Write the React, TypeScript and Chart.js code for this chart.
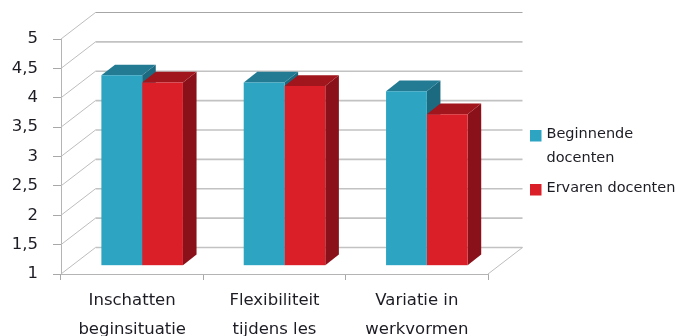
import React, { useEffect, useRef } from "react";
import { Chart, registerables } from "chart.js";

Chart.register(...registerables);

const categories = [
  ["Inschatten", "beginsituatie"],
  ["Flexibiliteit", "tijdens les"],
  ["Variatie in", "werkvormen"],
];
const beginnendeValues = [4.24, 4.12, 3.97];
const ervarenValues = [4.12, 4.06, 3.58];
const seriesNames = ["Beginnende docenten", "Ervaren docenten"];
const legendLines = [["Beginnende", "docenten"], ["Ervaren docenten"]];
const axisMinimum = 1;
const axisMaximum = 5;

const FONT = "'DejaVu Sans', sans-serif";
const TEXT = "#1c1c24";
const faces = [
  { front: "#2da4c2", top: "#237b93", side: "#1c6a80" },
  { front: "#db1f29", top: "#a1151c", side: "#8a1119" },
];

// Oblique projection of the 3D box: wall depth and the inset of the bars from the front plane.
const WALL = { dx: 34.5, dy: 26.5 };
const BAR_INSET = { dx: 10, dy: 8.3 };
const BAR_DEPTH = { dx: 13.6, dy: 10.6 };

const boxPlugin = {
  id: "box3d",
  beforeDatasetsDraw(chart: any) {
    const { ctx, chartArea, scales } = chart;
    const { left, right, bottom } = chartArea;

    // Back wall, side wall and floor.
    ctx.save();
    scales.y.ticks.forEach((tick: any, i: number) => {
      const y = scales.y.getPixelForValue(tick.value);
      ctx.strokeStyle = "#bdbdbd";
      ctx.lineWidth = 1;
      ctx.beginPath();
      ctx.moveTo(left, y);
      ctx.lineTo(left + WALL.dx, y - WALL.dy);
      ctx.stroke();
      ctx.strokeStyle = i === scales.y.ticks.length - 1 ? "#a6a6a6" : "#c2c2c2";
      ctx.lineWidth = i === scales.y.ticks.length - 1 ? 1 : 1.6;
      ctx.beginPath();
      ctx.moveTo(left + WALL.dx, y - WALL.dy);
      ctx.lineTo(right + WALL.dx, y - WALL.dy);
      ctx.stroke();
    });
    ctx.strokeStyle = "#bdbdbd";
    ctx.lineWidth = 1;
    ctx.beginPath();
    ctx.moveTo(right, bottom);
    ctx.lineTo(right + WALL.dx, bottom - WALL.dy);
    ctx.stroke();
    ctx.restore();

    // Everything the datasets paint sits on the plane set back from the axes.
    ctx.save();
    ctx.translate(BAR_INSET.dx, -BAR_INSET.dy);

    const count = chart.data.labels.length;
    for (let c = 0; c < count; c++) {
      chart.data.datasets.forEach((_: any, d: number) => {
        const bar = chart.getDatasetMeta(d).data[c];
        const { x, y, base, width } = bar.getProps(["x", "y", "base", "width"], true);
        const l = x - width / 2;
        const r = x + width / 2;
        ctx.fillStyle = faces[d].side;
        ctx.beginPath();
        ctx.moveTo(r, y);
        ctx.lineTo(r + BAR_DEPTH.dx, y - BAR_DEPTH.dy);
        ctx.lineTo(r + BAR_DEPTH.dx, base - BAR_DEPTH.dy);
        ctx.lineTo(r, base);
        ctx.closePath();
        ctx.fill();
        ctx.fillStyle = faces[d].top;
        ctx.beginPath();
        ctx.moveTo(l, y);
        ctx.lineTo(l + BAR_DEPTH.dx, y - BAR_DEPTH.dy);
        ctx.lineTo(r + BAR_DEPTH.dx, y - BAR_DEPTH.dy);
        ctx.lineTo(r, y);
        ctx.closePath();
        ctx.fill();
      });
    }
  },
  afterDatasetsDraw(chart: any) {
    const { ctx } = chart;
    ctx.restore();

    // Legend at the right of the box, with its own line breaks.
    const rows = [
      { swatchY: 130, textY: [134.5, 158.5] },
      { swatchY: 184, textY: [188.5] },
    ];
    ctx.save();
    ctx.font = `14.5px ${FONT}`;
    ctx.textBaseline = "middle";
    ctx.textAlign = "left";
    rows.forEach((row, i) => {
      ctx.fillStyle = faces[i].front;
      ctx.fillRect(530, row.swatchY, 11.5, 11.5);
      ctx.fillStyle = TEXT;
      legendLines[i].forEach((line, j) => ctx.fillText(line, 546.5, row.textY[j]));
    });
    ctx.restore();
  },
};

export default function App() {
  const canvasRef = useRef<HTMLCanvasElement>(null);

  useEffect(() => {
    const chart = new Chart(canvasRef.current as HTMLCanvasElement, {
      type: "bar",
      data: {
        labels: categories,
        datasets: [beginnendeValues, ervarenValues].map((data, i) => ({
          label: seriesNames[i],
          data,
          base: axisMinimum,
          backgroundColor: faces[i].front,
          barPercentage: 1,
          categoryPercentage: 0.573,
        })),
      },
      options: {
        animation: false,
        responsive: false,
        layout: { padding: { top: 39, right: 194, left: 0, bottom: 0 } },
        plugins: { legend: { display: false }, tooltip: { enabled: false } },
        scales: {
          x: {
            afterFit: (scale: any) => {
              scale.height = 62;
            },
            grid: { drawOnChartArea: false, color: "#a8a8a8", tickLength: 6 },
            border: { color: "#b4b4b4" },
            ticks: {
              color: TEXT,
              maxRotation: 0,
              padding: 7,
              font: { family: FONT, size: 16.5, lineHeight: 1.72 },
            },
          },
          y: {
            min: axisMinimum,
            max: axisMaximum,
            afterFit: (scale: any) => {
              scale.width = 61;
            },
            grid: { drawOnChartArea: false, color: "#a8a8a8", tickLength: 8 },
            border: { color: "#b4b4b4" },
            ticks: {
              stepSize: 0.5,
              color: TEXT,
              padding: 15,
              font: { family: FONT, size: 16.5 },
              callback: (v: any) => String(v).replace(".", ","),
            },
          },
        },
      },
      plugins: [boxPlugin],
    } as any);
    return () => chart.destroy();
  }, []);

  return (
    <div style={{ position: "absolute", left: 0, top: 0, width: 682, height: 336, background: "#fff", overflow: "hidden" }}>
      <canvas ref={canvasRef} width={682} height={336} style={{ display: "block" }} />
    </div>
  );
}
